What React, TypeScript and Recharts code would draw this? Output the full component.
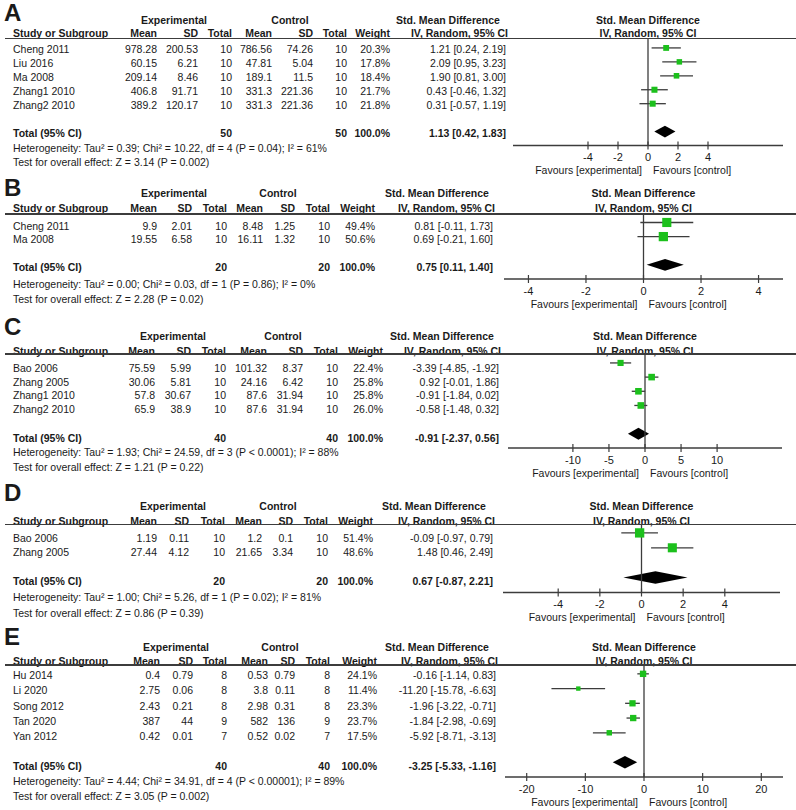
import React from 'react';
import { ScatterChart, Scatter, XAxis, YAxis, ReferenceLine, ReferenceArea, ErrorBar } from 'recharts';

// ---- Panel A ----
const studiesA = ['Cheng 2011', 'Liu 2016', 'Ma 2008', 'Zhang1 2010', 'Zhang2 2010'];
const expMeanA = [978.28, 60.15, 209.14, 406.8, 389.2];
const expSdA = [200.53, 6.21, 8.46, 91.71, 120.17];
const expNA = [10, 10, 10, 10, 10];
const ctlMeanA = [786.56, 47.81, 189.1, 331.3, 331.3];
const ctlSdA = [74.26, 5.04, 11.5, 221.36, 221.36];
const ctlNA = [10, 10, 10, 10, 10];
const weightA = [20.3, 17.8, 18.4, 21.7, 21.8];
const smdA = [1.21, 2.09, 1.9, 0.43, 0.31];
const loA = [0.24, 0.95, 0.81, -0.46, -0.57];
const hiA = [2.19, 3.23, 3.0, 1.32, 1.19];
const totalA = [1.13, 0.42, 1.83];
const totalNA = [50, 50];
const hetA = 'Heterogeneity: Tau² = 0.39; Chi² = 10.22, df = 4 (P = 0.04); I² = 61%';
const testA = 'Test for overall effect: Z = 3.14 (P = 0.002)';
const ticksA = [-4, -2, 0, 2, 4];
const domainA = [-9, 9];

// ---- Panel B ----
const studiesB = ['Cheng 2011', 'Ma 2008'];
const expMeanB = [9.9, 19.55];
const expSdB = [2.01, 6.58];
const expNB = [10, 10];
const ctlMeanB = [8.48, 16.11];
const ctlSdB = [1.25, 1.32];
const ctlNB = [10, 10];
const weightB = [49.4, 50.6];
const smdB = [0.81, 0.69];
const loB = [-0.11, -0.21];
const hiB = [1.73, 1.6];
const totalB = [0.75, 0.11, 1.4];
const totalNB = [20, 20];
const hetB = 'Heterogeneity: Tau² = 0.00; Chi² = 0.03, df = 1 (P = 0.86); I² = 0%';
const testB = 'Test for overall effect: Z = 2.28 (P = 0.02)';
const ticksB = [-4, -2, 0, 2, 4];
const domainB = [-4.85, 4.85];

// ---- Panel C ----
const studiesC = ['Bao 2006', 'Zhang 2005', 'Zhang1 2010', 'Zhang2 2010'];
const expMeanC = [75.59, 30.06, 57.8, 65.9];
const expSdC = [5.99, 5.81, 30.67, 38.9];
const expNC = [10, 10, 10, 10];
const ctlMeanC = [101.32, 24.16, 87.6, 87.6];
const ctlSdC = [8.37, 6.42, 31.94, 31.94];
const ctlNC = [10, 10, 10, 10];
const weightC = [22.4, 25.8, 25.8, 26.0];
const smdC = [-3.39, 0.92, -0.91, -0.58];
const loC = [-4.85, -0.01, -1.84, -1.48];
const hiC = [-1.92, 1.86, 0.02, 0.32];
const totalC = [-0.91, -2.37, 0.56];
const totalNC = [40, 40];
const hetC = 'Heterogeneity: Tau² = 1.93; Chi² = 24.59, df = 3 (P < 0.0001); I² = 88%';
const testC = 'Test for overall effect: Z = 1.21 (P = 0.22)';
const ticksC = [-10, -5, 0, 5, 10];
const domainC = [-19, 19];

// ---- Panel D ----
const studiesD = ['Bao 2006', 'Zhang 2005'];
const expMeanD = [1.19, 27.44];
const expSdD = [0.11, 4.12];
const expND = [10, 10];
const ctlMeanD = [1.2, 21.65];
const ctlSdD = [0.1, 3.34];
const ctlND = [10, 10];
const weightD = [51.4, 48.6];
const smdD = [-0.09, 1.48];
const loD = [-0.97, 0.46];
const hiD = [0.79, 2.49];
const totalD = [0.67, -0.87, 2.21];
const totalND = [20, 20];
const hetD = 'Heterogeneity: Tau² = 1.00; Chi² = 5.26, df = 1 (P = 0.02); I² = 81%';
const testD = 'Test for overall effect: Z = 0.86 (P = 0.39)';
const ticksD = [-4, -2, 0, 2, 4];
const domainD = [-6.65, 6.65];

// ---- Panel E ----
const studiesE = ['Hu 2014', 'Li 2020', 'Song 2012', 'Tan 2020', 'Yan 2012'];
const expMeanE = [0.4, 2.75, 2.43, 387, 0.42];
const expSdE = [0.79, 0.06, 0.21, 44, 0.01];
const expNE = [8, 8, 8, 9, 7];
const ctlMeanE = [0.53, 3.8, 2.98, 582, 0.52];
const ctlSdE = [0.79, 0.11, 0.31, 136, 0.02];
const ctlNE = [8, 8, 8, 9, 7];
const weightE = [24.1, 11.4, 23.3, 23.7, 17.5];
const smdE = [-0.16, -11.2, -1.96, -1.84, -5.92];
const loE = [-1.14, -15.78, -3.22, -2.98, -8.71];
const hiE = [0.83, -6.63, -0.71, -0.69, -3.13];
const totalE = [-3.25, -5.33, -1.16];
const totalNE = [40, 40];
const hetE = 'Heterogeneity: Tau² = 4.44; Chi² = 34.91, df = 4 (P < 0.00001); I² = 89%';
const testE = 'Test for overall effect: Z = 3.05 (P = 0.002)';
const ticksE = [-20, -10, 0, 10, 20];
const domainE = [-23.7, 23.7];

const TEXT = '#1a1a1a';
const LINE = '#3c3c3c';
const GREEN = '#1cc01c';
const FONT = '"Liberation Sans", Arial, sans-serif';

// page layout for each panel (pixels)
const layouts = {
  A: { letterY: 12.5, groupY: 20, headY: 33, lineY: 38.5, rowY: 49, rowStep: 14, totalY: 133, hetY: 148, testY: 162,
    cols: [157, 198, 232, 272, 313, 347, 390, 506], groupX: [174, 290, 448],
    plot: { left: 513, right: 783, top: 38.5, axisY: 145, rowTop: 0.36 } },
  B: { letterY: 188, groupY: 193, headY: 208, lineY: 214, rowY: 225.5, rowStep: 13.5, totalY: 267, hetY: 283.5, testY: 298.5,
    cols: [157, 192, 227, 263, 295, 330, 375, 493], groupX: [174, 278, 437],
    plot: { left: 504, right: 783, top: 214, axisY: 279, rowTop: 0.4 } },
  C: { letterY: 327, groupY: 336, headY: 351, lineY: 354, rowY: 368, rowStep: 13.6, totalY: 438, hetY: 452, testY: 467,
    cols: [155, 191, 226, 267, 303, 338, 383, 499], groupX: [173, 283, 442],
    plot: { left: 508, right: 782, top: 354, axisY: 448, rowTop: 0.37 } },
  D: { letterY: 493, groupY: 506, headY: 521, lineY: 524.5, rowY: 538, rowStep: 14, totalY: 581, hetY: 597, testY: 612.5,
    cols: [157, 189, 225, 262, 293, 328, 373, 493], groupX: [173, 278, 434],
    plot: { left: 503, right: 780, top: 524.5, axisY: 592, rowTop: 0.47 } },
  E: { letterY: 637, groupY: 647, headY: 661, lineY: 665, rowY: 675, rowStep: 15.3, totalY: 766, hetY: 781, testY: 796,
    cols: [160, 193, 227, 268, 295, 330, 377, 496], groupX: [176, 280, 437],
    plot: { left: 505, right: 783, top: 665, axisY: 777, rowTop: 0.4 } },
};

const panels = [
  { letter: 'A', studies: studiesA, expMean: expMeanA, expSd: expSdA, expN: expNA, ctlMean: ctlMeanA, ctlSd: ctlSdA, ctlN: ctlNA,
    weight: weightA, smd: smdA, lo: loA, hi: hiA, total: totalA, totalN: totalNA, het: hetA, test: testA, ticks: ticksA, domain: domainA, layout: layouts.A },
  { letter: 'B', studies: studiesB, expMean: expMeanB, expSd: expSdB, expN: expNB, ctlMean: ctlMeanB, ctlSd: ctlSdB, ctlN: ctlNB,
    weight: weightB, smd: smdB, lo: loB, hi: hiB, total: totalB, totalN: totalNB, het: hetB, test: testB, ticks: ticksB, domain: domainB, layout: layouts.B },
  { letter: 'C', studies: studiesC, expMean: expMeanC, expSd: expSdC, expN: expNC, ctlMean: ctlMeanC, ctlSd: ctlSdC, ctlN: ctlNC,
    weight: weightC, smd: smdC, lo: loC, hi: hiC, total: totalC, totalN: totalNC, het: hetC, test: testC, ticks: ticksC, domain: domainC, layout: layouts.C },
  { letter: 'D', studies: studiesD, expMean: expMeanD, expSd: expSdD, expN: expND, ctlMean: ctlMeanD, ctlSd: ctlSdD, ctlN: ctlND,
    weight: weightD, smd: smdD, lo: loD, hi: hiD, total: totalD, totalN: totalND, het: hetD, test: testD, ticks: ticksD, domain: domainD, layout: layouts.D },
  { letter: 'E', studies: studiesE, expMean: expMeanE, expSd: expSdE, expN: expNE, ctlMean: ctlMeanE, ctlSd: ctlSdE, ctlN: ctlNE,
    weight: weightE, smd: smdE, lo: loE, hi: hiE, total: totalE, totalN: totalNE, het: hetE, test: testE, ticks: ticksE, domain: domainE, layout: layouts.E },
];

const ci = (m: number, l: number, h: number) => `${m.toFixed(2)} [${l.toFixed(2)}, ${h.toFixed(2)}]`;

const Txt = ({ x, y, a = 'left', b = false, s = 10.5, children }: any) => {
  const w = 360;
  const left = a === 'left' ? x : a === 'right' ? x - w : x - w / 2;
  return (
    <div
      style={{
        position: 'absolute', left, top: y - 6, width: a === 'left' ? undefined : w, lineHeight: '12px',
        fontSize: s, fontWeight: b ? 'bold' : 'normal', textAlign: a, whiteSpace: 'nowrap',
      }}
    >
      {children}
    </div>
  );
};

const AxisTick = (props: any) => {
  const { x, y, payload } = props;
  return (
    <g>
      <line x1={x} x2={x} y1={y - 12} y2={y - 4} stroke={LINE} strokeWidth={1.2} />
      <text x={x} y={y} dy="0.71em" textAnchor="middle" fontSize={11} fill={TEXT} fontFamily={FONT}>
        {payload.value}
      </text>
    </g>
  );
};

const ForestPlot = ({ p }: any) => {
  const { left, right, top, axisY, rowTop } = p.layout.plot;
  const w = right - left;
  const plotH = axisY - top;
  const axisH = 36;
  const h = plotH + axisH;
  const n = p.studies.length;
  const pts = p.studies.map((s: string, i: number) => ({
    name: s,
    x: p.smd[i],
    y: i + 1,
    w: p.weight[i],
    err: [p.smd[i] - p.lo[i], p.hi[i] - p.smd[i]],
  }));
  const [est, tlo, thi] = p.total;
  const dRow = n + 2;

  // square area follows the study weight
  const square = (sp: any) => {
    const side = 1.3 * Math.sqrt(sp.payload.w);
    return <rect x={sp.cx - side / 2} y={sp.cy - side / 2} width={side} height={side} fill={GREEN} />;
  };

  const diamond = (ap: any) => {
    const { x, y, width, height } = ap;
    const cx = x + (width * (est - tlo)) / (thi - tlo);
    const cy = y + height / 2;
    return <polygon points={`${x},${cy} ${cx},${y} ${x + width},${cy} ${cx},${y + height}`} fill="#000" />;
  };

  const favours = (lp: any) => {
    const vb = lp.viewBox || lp;
    const x0 = vb.x;
    const yb = vb.y + vb.height + 28.5;
    return (
      <g fontFamily={FONT} fontSize={10.5} fill={TEXT}>
        <text x={x0 - 6} y={yb} textAnchor="end">Favours [experimental]</text>
        <text x={x0 + 5} y={yb} textAnchor="start">Favours [control]</text>
      </g>
    );
  };

  return (
    <div style={{ position: 'absolute', left, top, width: w, height: h }}>
      <ScatterChart width={w} height={h} margin={{ top: 0, right: 0, bottom: 0, left: 0 }}>
        <XAxis
          type="number"
          dataKey="x"
          domain={p.domain}
          ticks={p.ticks}
          interval={0}
          allowDataOverflow
          height={axisH}
          axisLine={{ stroke: LINE, strokeWidth: 1.3 }}
          tickLine={false}
          tickSize={4}
          tickMargin={4}
          tick={<AxisTick />}
        />
        <YAxis type="number" dataKey="y" domain={[rowTop, n + 3]} reversed hide allowDataOverflow />
        <ReferenceLine x={0} stroke={LINE} strokeWidth={1.3} label={favours} />
        <ReferenceArea x1={tlo} x2={thi} y1={dRow - 0.42} y2={dRow + 0.42} shape={diamond} />
        <Scatter data={pts} shape={square} isAnimationActive={false}>
          <ErrorBar dataKey="err" direction="x" width={0} stroke={LINE} strokeWidth={1.3} />
        </Scatter>
      </ScatterChart>
    </div>
  );
};

const Panel = ({ p }: any) => {
  const L = p.layout;
  const c = L.cols;
  const plotMid = (L.plot.left + L.plot.right) / 2;
  return (
    <>
      <div style={{ position: 'absolute', left: 4, top: Math.max(0, L.letterY - 11.7), fontSize: 24, lineHeight: '24px', fontWeight: 'bold' }}>
        {p.letter}
      </div>
      <Txt x={L.groupX[0]} y={L.groupY} a="center" b>Experimental</Txt>
      <Txt x={L.groupX[1]} y={L.groupY} a="center" b>Control</Txt>
      <Txt x={L.groupX[2]} y={L.groupY} a="center" b>Std. Mean Difference</Txt>
      <Txt x={plotMid} y={L.groupY} a="center" b>Std. Mean Difference</Txt>
      <Txt x={13} y={L.headY} b>Study or Subgroup</Txt>
      {['Mean', 'SD', 'Total', 'Mean', 'SD', 'Total', 'Weight', 'IV, Random, 95% CI'].map((t, i) => (
        <Txt key={i} x={c[i] + (i === 7 ? 2 : 0)} y={L.headY} a="right" b>{t}</Txt>
      ))}
      <Txt x={plotMid} y={L.headY} a="center" b>IV, Random, 95% CI</Txt>
      <div style={{ position: 'absolute', left: 5, top: L.lineY - 0.7, width: 791, height: 1.4, background: LINE }} />
      {p.studies.map((s: string, i: number) => {
        const y = L.rowY + i * L.rowStep;
        const vals = [
          p.expMean[i], p.expSd[i], p.expN[i], p.ctlMean[i], p.ctlSd[i], p.ctlN[i],
          `${p.weight[i].toFixed(1)}%`, ci(p.smd[i], p.lo[i], p.hi[i]),
        ];
        return (
          <React.Fragment key={s}>
            <Txt x={13} y={y}>{s}</Txt>
            {vals.map((v, j) => (
              <Txt key={j} x={c[j]} y={y} a="right">{String(v)}</Txt>
            ))}
          </React.Fragment>
        );
      })}
      <Txt x={13} y={L.totalY} b>Total (95% CI)</Txt>
      <Txt x={c[2]} y={L.totalY} a="right" b>{p.totalN[0]}</Txt>
      <Txt x={c[5]} y={L.totalY} a="right" b>{p.totalN[1]}</Txt>
      <Txt x={c[6]} y={L.totalY} a="right" b>100.0%</Txt>
      <Txt x={c[7]} y={L.totalY} a="right" b>{ci(p.total[0], p.total[1], p.total[2])}</Txt>
      <Txt x={13} y={L.hetY}>{p.het}</Txt>
      <Txt x={13} y={L.testY}>{p.test}</Txt>
      <ForestPlot p={p} />
    </>
  );
};

export default function App() {
  return (
    <div
      style={{
        position: 'absolute', left: 0, top: 0, width: 796, height: 810, overflow: 'hidden',
        background: '#fff', fontFamily: FONT, color: TEXT,
      }}
    >
      {panels.map((p) => (
        <Panel key={p.letter} p={p} />
      ))}
    </div>
  );
}
